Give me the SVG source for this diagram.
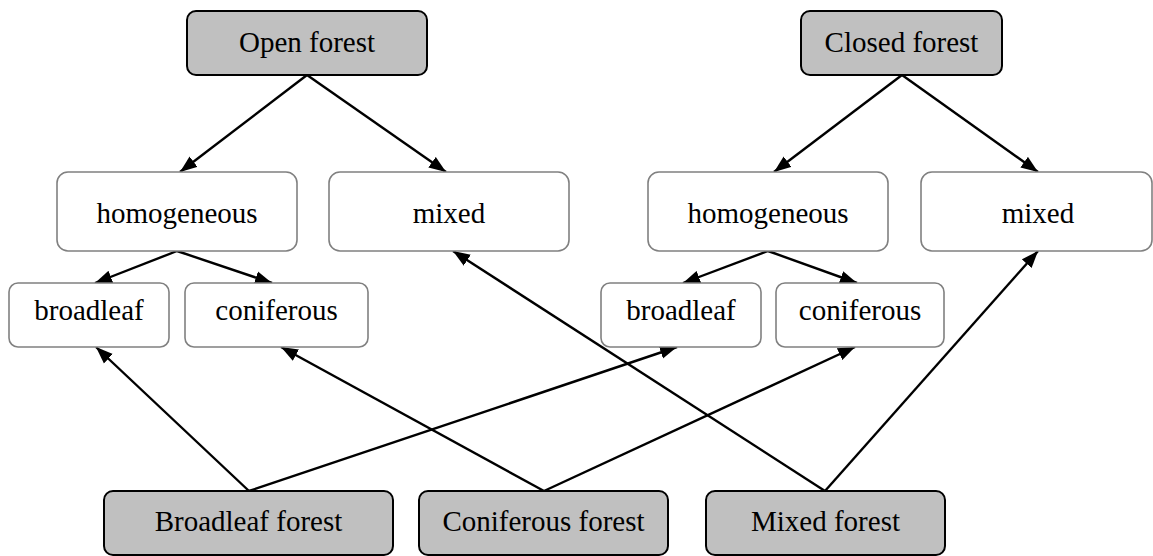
<svg xmlns="http://www.w3.org/2000/svg" width="1153" height="556" viewBox="0 0 1153 556">
<style>
.top rect{fill:#c0c0c0;stroke:#000;stroke-width:2}
.mid rect{fill:#fff;stroke:#808080;stroke-width:1.6}
text{font-family:"Liberation Serif","Times New Roman",serif;font-size:29px;fill:#000;text-anchor:middle}
#edges line{stroke:#000;stroke-width:2.4;marker-end:url(#arr)}
</style>
<defs>
<marker id="arr" markerUnits="userSpaceOnUse" markerWidth="18" markerHeight="14" refX="17" refY="7" orient="auto" viewBox="0 0 18 14">
<path d="M0,0.5 L17,7 L0,13.5 z" fill="#000"/>
</marker>
</defs>
<rect width="1153" height="556" fill="#fff"/>
<g id="edges">
<line x1="307" y1="75" x2="180" y2="172"/>
<line x1="307" y1="75" x2="446" y2="172"/>
<line x1="902" y1="75" x2="774" y2="172"/>
<line x1="902" y1="75" x2="1038" y2="172"/>
<line x1="177" y1="251" x2="95" y2="283"/>
<line x1="177" y1="251" x2="272" y2="283"/>
<line x1="768" y1="251" x2="683" y2="283"/>
<line x1="768" y1="251" x2="857" y2="283"/>
<line x1="249" y1="491" x2="96" y2="347"/>
<line x1="249" y1="491" x2="677" y2="347"/>
<line x1="544" y1="491" x2="281" y2="347"/>
<line x1="544" y1="491" x2="855" y2="347"/>
<line x1="825" y1="491" x2="453" y2="251"/>
<line x1="825" y1="491" x2="1038" y2="251"/>
</g>
<g id="open_forest" class="top"><rect x="187" y="11" width="240" height="64" rx="9"/><text x="307" y="52">Open forest</text></g>
<g id="closed_forest" class="top"><rect x="801" y="11" width="201" height="64" rx="9"/><text x="901.5" y="52">Closed forest</text></g>
<g id="homogeneous_open" class="mid"><rect x="57" y="172" width="240" height="79" rx="11"/><text x="177" y="223">homogeneous</text></g>
<g id="mixed_open" class="mid"><rect x="329" y="172" width="240" height="79" rx="11"/><text x="449" y="223">mixed</text></g>
<g id="homogeneous_closed" class="mid"><rect x="648" y="172" width="240" height="79" rx="11"/><text x="768" y="223">homogeneous</text></g>
<g id="mixed_closed" class="mid"><rect x="921" y="172" width="231" height="79" rx="11"/><text x="1038" y="223">mixed</text></g>
<g id="broadleaf_open" class="mid"><rect x="9" y="283" width="160" height="64" rx="9"/><text x="89" y="320">broadleaf</text></g>
<g id="coniferous_open" class="mid"><rect x="185" y="283" width="183" height="64" rx="9"/><text x="276.5" y="320">coniferous</text></g>
<g id="broadleaf_closed" class="mid"><rect x="601" y="283" width="160" height="64" rx="9"/><text x="681" y="320">broadleaf</text></g>
<g id="coniferous_closed" class="mid"><rect x="776" y="283" width="168" height="64" rx="9"/><text x="860" y="320">coniferous</text></g>
<g id="broadleaf_forest" class="top"><rect x="104" y="491" width="289" height="64" rx="9"/><text x="248.5" y="531">Broadleaf forest</text></g>
<g id="coniferous_forest" class="top"><rect x="419" y="491" width="249" height="64" rx="9"/><text x="543.5" y="531">Coniferous forest</text></g>
<g id="mixed_forest" class="top"><rect x="706" y="491" width="239" height="64" rx="9"/><text x="825.5" y="531">Mixed forest</text></g>
</svg>
